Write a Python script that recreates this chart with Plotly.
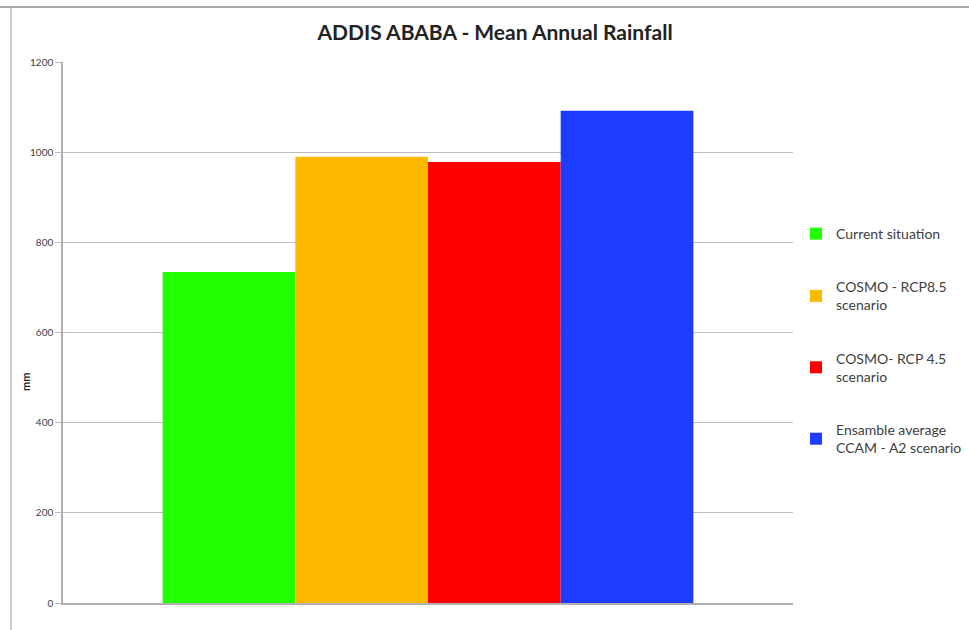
import plotly.graph_objects as go

series_names = [
    "Current situation",
    "COSMO - RCP8.5<br>scenario",
    "COSMO- RCP 4.5<br>scenario",
    "Ensamble average<br>CCAM - A2 scenario",
]
values = [734, 990, 978, 1092]
colors = ["#22FF00", "#FFBA00", "#FF0000", "#1E3CFF"]
category = [""]

W, H = 969, 630
L, R, T, B = 63, 176, 62, 27
pw, ph = W - L - R, H - T - B

fig = go.Figure()
for i, (n, v, c) in enumerate(zip(series_names, values, colors)):
    fig.add_trace(go.Bar(
        x=category, y=[v], name=n, marker=dict(color=c, line=dict(width=0)),
        legendgroup=f"g{i}",
    ))

def px_x(p):
    return (p - L) / pw

def px_y(p):
    return 1 - (p - T) / ph

fig.update_layout(
    width=W, height=H,
    margin=dict(l=L, r=R, t=T, b=B, autoexpand=False),
    paper_bgcolor="white", plot_bgcolor="white",
    barmode="group", bargap=0.273, bargroupgap=0,
    font=dict(family="Lato, Open Sans, sans-serif", color="#404040"),
    title=dict(text="<b>ADDIS ABABA - Mean Annual Rainfall</b>", x=495 / W, xanchor="center",
               y=1 - 33 / H, yanchor="middle",
               font=dict(size=21, color="#222222")),
    showlegend=True,
    legend=dict(x=px_x(796), xanchor="left", y=px_y(218), yanchor="top",
                traceorder="grouped", tracegroupgap=32,
                font=dict(size=14, color="#404040"), itemwidth=30),
    xaxis=dict(showticklabels=False, showline=True, linecolor="#b0b0b0", linewidth=1.5,
               showgrid=False, ticks=""),
    yaxis=dict(range=[0, 1200], dtick=200, showgrid=True, gridcolor="#bcbcbc", gridwidth=1.3,
               showline=True, linecolor="#b0b0b0", linewidth=1.5,
               ticks="outside", ticklen=6, tickcolor="#bcbcbc",
               tickfont=dict(size=10, color="#404040"),
               zeroline=False),
    annotations=[
        dict(text="<b>mm</b>", xref="paper", yref="paper", x=px_x(25), y=px_y(382),
             xanchor="center", yanchor="middle", textangle=-90, showarrow=False,
             font=dict(size=11, color="#222222")),
    ],
    shapes=[
        dict(type="line", xref="paper", yref="paper", x0=px_x(0), x1=px_x(W), y0=px_y(7), y1=px_y(7),
             line=dict(color="#a8a8a8", width=2)),
        dict(type="line", xref="paper", yref="paper", x0=px_x(11), x1=px_x(11), y0=px_y(7), y1=px_y(H),
             line=dict(color="#c0c0c0", width=1.5)),
    ],
)

fig.write_html("out.html")
